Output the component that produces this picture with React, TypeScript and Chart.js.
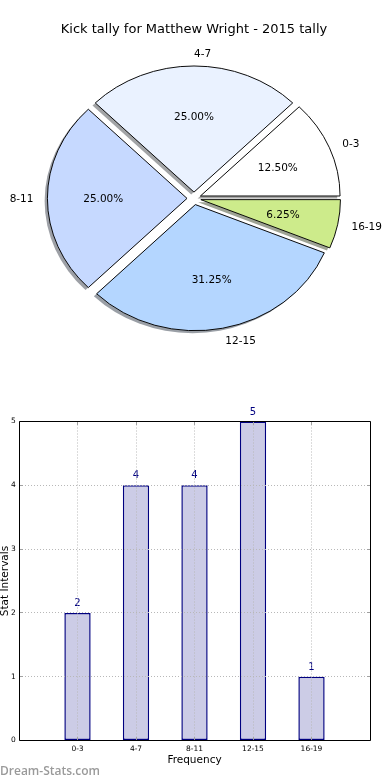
import React, { useEffect, useRef } from 'react';
import { Chart, registerables } from 'chart.js';

Chart.register(...registerables);

// ---------- data ----------
const TITLE = 'Kick tally for Matthew Wright - 2015 tally';
const categories = ['0-3', '4-7', '8-11', '12-15', '16-19'];
const counts = [2, 4, 4, 5, 1];
const sliceColors = ['#ffffff', '#eaf2ff', '#c6d9ff', '#b4d6ff', '#cdeb8b'];
const yTickValues = [0, 1, 2, 3, 4, 5];
const X_TITLE = 'Frequency';
const Y_TITLE = 'Stat Intervals';
const WATERMARK = 'Dream-Stats.com';

// ---------- styling ----------
const FONT = "'DejaVu Sans', 'Liberation Sans', sans-serif";
const PIE_R = 139.6;
const SQUASH = 126.1 / 139.6; // matplotlib non-equal aspect -> elliptical pie
const EXPLODE = 0.05;
const LABEL_DIST = 1.1;
const PCT_DIST = 0.6;
const SHADOW_DX = -2.8;
const SHADOW_DY = 2.5;
const GRID_COLOR = '#b8b8b8';

function shadowColor(hex: string) {
  const h = hex.replace('#', '');
  const r = parseInt(h.slice(0, 2), 16);
  const g = parseInt(h.slice(2, 4), 16);
  const b = parseInt(h.slice(4, 6), 16);
  return `rgba(${Math.round(r * 0.3)},${Math.round(g * 0.3)},${Math.round(b * 0.3)},0.5)`;
}

const piePlugin = {
  id: 'mplPie',
  beforeDatasetsDraw(chart: any) {
    const ctx = chart.ctx;
    const arcs = chart.getDatasetMeta(0).data;
    if (!arcs.length) return;
    const cx = arcs[0].x;
    const cy = arcs[0].y;
    const squash = () => {
      ctx.translate(cx, cy);
      ctx.scale(1, SQUASH);
      ctx.translate(-cx, -cy);
    };
    // shadows (below every wedge)
    ctx.save();
    ctx.translate(SHADOW_DX, SHADOW_DY);
    squash();
    arcs.forEach((arc: any) => {
      const { startAngle, endAngle, outerRadius } = arc;
      const mid = (startAngle + endAngle) / 2;
      const e = EXPLODE * outerRadius;
      const ox = cx + Math.cos(mid) * e;
      const oy = cy + Math.sin(mid) * e;
      ctx.beginPath();
      ctx.moveTo(ox, oy);
      ctx.arc(ox, oy, outerRadius, startAngle, endAngle);
      ctx.closePath();
      ctx.fillStyle = shadowColor(arc.options.backgroundColor);
      ctx.fill();
    });
    ctx.restore();
    // exploded wedges
    ctx.save();
    squash();
    arcs.forEach((arc: any) => {
      const mid = (arc.startAngle + arc.endAngle) / 2;
      const e = EXPLODE * arc.outerRadius;
      ctx.save();
      ctx.translate(Math.cos(mid) * e, Math.sin(mid) * e);
      arc.draw(ctx);
      ctx.restore();
    });
    ctx.restore();
    return false;
  },
  afterDraw(chart: any) {
    const ctx = chart.ctx;
    const arcs = chart.getDatasetMeta(0).data;
    const values: number[] = chart.data.datasets[0].data;
    const labels: string[] = chart.data.labels;
    const total = values.reduce((a, b) => a + b, 0);
    ctx.save();
    ctx.fillStyle = '#000';
    ctx.font = `10.5px ${FONT}`;
    ctx.textBaseline = 'middle';
    arcs.forEach((arc: any, i: number) => {
      const cx = arc.x;
      const cy = arc.y;
      const r = arc.outerRadius;
      const mid = (arc.startAngle + arc.endAngle) / 2;
      const c = Math.cos(mid);
      const s = Math.sin(mid);
      const ex = cx + c * EXPLODE * r;
      const ey = cy + s * EXPLODE * r * SQUASH;
      ctx.textAlign = c > -1e-6 ? 'left' : 'right';
      ctx.fillText(labels[i], ex + LABEL_DIST * r * c, ey + LABEL_DIST * r * s * SQUASH + 1);
      ctx.textAlign = 'center';
      const pct = ((values[i] / total) * 100).toFixed(2) + '%';
      ctx.fillText(pct, ex + PCT_DIST * r * c, ey + PCT_DIST * r * s * SQUASH + 1);
    });
    ctx.restore();
  },
};

const barPlugin = {
  id: 'mplBar',
  afterDatasetsDraw(chart: any) {
    const ctx = chart.ctx;
    const bars = chart.getDatasetMeta(0).data;
    const values = chart.data.datasets[0].data;
    ctx.save();
    ctx.fillStyle = '#000080';
    ctx.font = `10px ${FONT}`;
    ctx.textAlign = 'center';
    ctx.textBaseline = 'middle';
    bars.forEach((bar: any, i: number) => {
      ctx.fillText(String(values[i].y), bar.x, bar.y - 9.5);
    });
    ctx.restore();
  },
  afterDraw(chart: any) {
    const ctx = chart.ctx;
    const { left, right, top, bottom } = chart.chartArea;
    const xs = chart.scales.x;
    const ys = chart.scales.y;
    const L = Math.floor(left) + 0.5;
    const R = Math.floor(right) + 0.5;
    const T = Math.floor(top) + 0.5;
    const B = Math.floor(bottom) + 0.5;
    ctx.save();
    // small inward tick marks (matplotlib style)
    ctx.strokeStyle = '#a0a0a0';
    ctx.lineWidth = 1;
    ctx.beginPath();
    ys.ticks.forEach((t: any) => {
      const y = Math.floor(ys.getPixelForValue(t.value)) + 0.5;
      ctx.moveTo(L, y); ctx.lineTo(L + 3.5, y);
      ctx.moveTo(R, y); ctx.lineTo(R - 3.5, y);
    });
    categories.forEach((_, i) => {
      const x = Math.floor(xs.getPixelForValue(i)) + 0.5;
      ctx.moveTo(x, B); ctx.lineTo(x, B - 3.5);
      ctx.moveTo(x, T); ctx.lineTo(x, T + 3.5);
    });
    ctx.stroke();
    // frame
    ctx.strokeStyle = '#000';
    ctx.beginPath();
    ctx.moveTo(L, T); ctx.lineTo(R, T); ctx.lineTo(R, B); ctx.lineTo(L, B); ctx.closePath();
    ctx.stroke();
    // y axis title, partly cut by the page edge as in the reference
    ctx.fillStyle = '#000';
    ctx.font = `10.5px ${FONT}`;
    ctx.textAlign = 'center';
    ctx.textBaseline = 'alphabetic';
    ctx.translate(7.5, (top + bottom) / 2);
    ctx.rotate(-Math.PI / 2);
    ctx.fillText(Y_TITLE, 0, 0);
    ctx.restore();
  },
};

export default function App() {
  const pieRef = useRef<HTMLCanvasElement>(null);
  const barRef = useRef<HTMLCanvasElement>(null);

  useEffect(() => {
    // matplotlib draws counter-clockwise from 3 o'clock; Chart.js goes clockwise
    const pieLabels = [...categories].reverse();
    const pieValues = [...counts].reverse();
    const pieColors = [...sliceColors].reverse();

    const pie = new Chart(pieRef.current as HTMLCanvasElement, {
      type: 'pie',
      data: {
        labels: pieLabels,
        datasets: [
          {
            data: pieValues,
            backgroundColor: pieColors,
            borderColor: '#000',
            borderWidth: 1,
            borderJoinStyle: 'miter',
            radius: PIE_R,
            rotation: 90,
            clip: false,
          } as any,
        ],
      },
      options: {
        responsive: false,
        animation: false,
        events: [],
        devicePixelRatio: 1,
        layout: { padding: { top: 0, bottom: 20.8, left: 0, right: 2 } },
        plugins: {
          legend: { display: false },
          tooltip: { enabled: false },
          title: {
            display: true,
            text: TITLE,
            color: '#000',
            font: { family: FONT, size: 13, weight: 'normal' },
            padding: { top: 22, bottom: 0 },
          },
        },
      } as any,
      plugins: [piePlugin as any],
    });

    const grid = { color: GRID_COLOR, lineWidth: 1, drawTicks: false, offset: false, z: 1 };
    const border = { display: false, dash: [1, 2] };

    const bar = new Chart(barRef.current as HTMLCanvasElement, {
      type: 'bar',
      data: {
        datasets: [
          {
            data: categories.map((_, i) => ({ x: i, y: counts[i] })),
            backgroundColor: '#ccccE6',
            borderColor: '#000080',
            borderWidth: 1.5,
            borderSkipped: false,
            inflateAmount: 0,
            barPercentage: 0.45,
            categoryPercentage: 1,
          } as any,
        ],
      },
      options: {
        responsive: false,
        animation: false,
        events: [],
        devicePixelRatio: 1,
        layout: { padding: { top: 41.5, right: 20, left: 0, bottom: 0 } },
        plugins: { legend: { display: false }, tooltip: { enabled: false } },
        scales: {
          x: {
            type: 'linear',
            min: -1,
            max: 5,
            offset: false,
            afterFit: (s: any) => { s.height = 39.5; },
            grid,
            border,
            ticks: {
              stepSize: 1,
              autoSkip: false,
              maxRotation: 0,
              padding: 4,
              color: '#000',
              font: { family: FONT, size: 7.5 },
              callback: (v: any) => categories[v] ?? '',
            },
            title: {
              display: true,
              text: X_TITLE,
              color: '#000',
              font: { family: FONT, size: 10.5 },
              padding: { top: 0, bottom: 13.3 },
            },
          },
          y: {
            min: yTickValues[0],
            max: yTickValues[yTickValues.length - 1],
            afterFit: (s: any) => { s.width = 19; },
            afterBuildTicks: (s: any) => { s.ticks = yTickValues.map((v) => ({ value: v })); },
            grid,
            border,
            ticks: {
              padding: 3.3,
              color: '#000',
              font: { family: FONT, size: 7.5 },
            },
          },
        },
      } as any,
      plugins: [barPlugin as any],
    });

    return () => {
      pie.destroy();
      bar.destroy();
    };
  }, []);

  return (
    <div style={{ position: 'absolute', left: 0, top: 0, width: 390, height: 780, background: '#fff', overflow: 'hidden' }}>
      <canvas ref={pieRef} width={390} height={380} style={{ position: 'absolute', left: 0, top: 0, display: 'block' }} />
      <canvas ref={barRef} width={390} height={400} style={{ position: 'absolute', left: 0, top: 380, display: 'block' }} />
      <div
        style={{
          position: 'absolute',
          left: 0,
          top: 762,
          fontFamily: "'Open Sans', sans-serif",
          fontSize: 12,
          fontWeight: 600,
          color: '#9a9a9a',
          whiteSpace: 'nowrap',
          lineHeight: 'normal',
        }}
      >
        {WATERMARK}
      </div>
    </div>
  );
}
